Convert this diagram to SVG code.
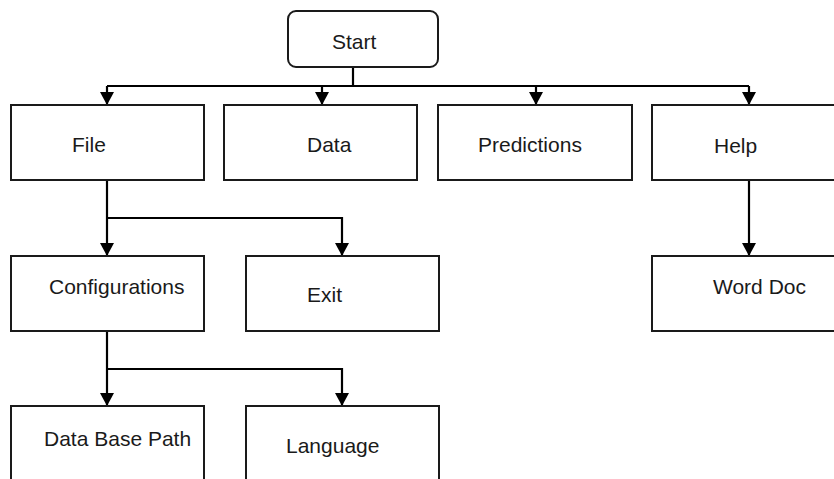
<svg xmlns="http://www.w3.org/2000/svg" width="834" height="479" viewBox="0 0 834 479">
  <defs>
    <marker id="arrow" viewBox="0 0 13 14" refX="13" refY="7" markerWidth="13" markerHeight="14" markerUnits="userSpaceOnUse" orient="auto">
      <path d="M0,0 L13,7 L0,14 Z" fill="#000"/>
    </marker>
    <style>
      .box { fill: #fff; stroke: #1a1a1a; stroke-width: 2; }
      .lbl { font-family: "Liberation Sans", Arial, sans-serif; font-size: 21px; fill: #1a1a1a; }
      .wire { fill: none; stroke: #000; stroke-width: 2.2; }
      .arr { marker-end: url(#arrow); }
    </style>
  </defs>
  <rect width="834" height="479" fill="#fff"/>

  <!-- connectors -->
  <g id="connectors">
    <path class="wire" d="M353,67 V86"/>
    <path class="wire" d="M107,86 H749"/>
    <path class="wire arr" d="M107,86 V105"/>
    <path class="wire arr" d="M322,86 V105"/>
    <path class="wire arr" d="M536,86 V105"/>
    <path class="wire arr" d="M749,86 V105"/>
    <path class="wire arr" d="M107,180 V256"/>
    <path class="wire arr" d="M107,218 H342 V256"/>
    <path class="wire arr" d="M749,180 V256"/>
    <path class="wire arr" d="M107,331 V406"/>
    <path class="wire arr" d="M107,369 H342 V406"/>
  </g>

  <!-- nodes -->
  <g id="start">
    <rect class="box" x="288" y="11" width="150" height="56" rx="8"/>
    <text class="lbl" x="332" y="49">Start</text>
  </g>
  <g id="file">
    <rect class="box" x="11" y="105" width="193" height="75"/>
    <text class="lbl" x="72" y="152">File</text>
  </g>
  <g id="data">
    <rect class="box" x="224" y="105" width="193" height="75"/>
    <text class="lbl" x="307" y="152">Data</text>
  </g>
  <g id="predictions">
    <rect class="box" x="438" y="105" width="194" height="75"/>
    <text class="lbl" x="478" y="152">Predictions</text>
  </g>
  <g id="help">
    <rect class="box" x="652" y="105" width="194" height="75"/>
    <text class="lbl" x="714" y="153">Help</text>
  </g>
  <g id="configurations">
    <rect class="box" x="11" y="256" width="193" height="75"/>
    <text class="lbl" x="49" y="294">Configurations</text>
  </g>
  <g id="exit">
    <rect class="box" x="246" y="256" width="193" height="75"/>
    <text class="lbl" x="307" y="302">Exit</text>
  </g>
  <g id="word-doc">
    <rect class="box" x="652" y="256" width="194" height="75"/>
    <text class="lbl" x="713" y="294">Word Doc</text>
  </g>
  <g id="data-base-path">
    <rect class="box" x="11" y="406" width="193" height="90"/>
    <text class="lbl" x="44" y="446">Data Base Path</text>
  </g>
  <g id="language">
    <rect class="box" x="246" y="406" width="193" height="90"/>
    <text class="lbl" x="286" y="453">Language</text>
  </g>
</svg>
